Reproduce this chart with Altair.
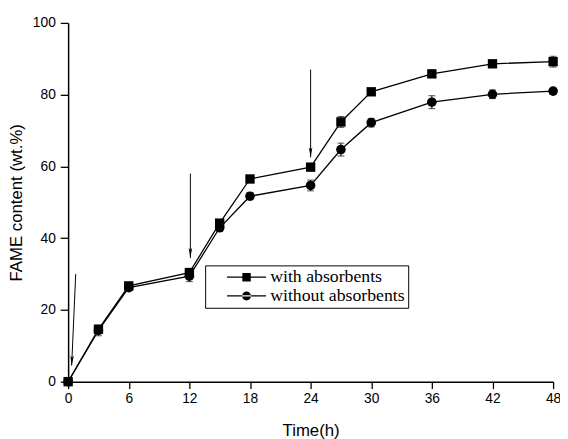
import altair as alt
import pandas as pd

# ---- data ----
time_h = [0, 3, 6, 12, 15, 18, 24, 27, 30, 36, 42, 48]
with_abs = [0, 14.6, 26.7, 30.4, 44.2, 56.5, 59.8, 72.4, 80.8, 85.8, 88.6, 89.2]
with_err = [0.5, 1.0, 0.8, 1.2, 0.8, 0.8, 0.8, 1.5, 0.8, 0.8, 0.8, 1.5]
without_abs = [0, 14.3, 26.2, 29.4, 42.9, 51.7, 54.7, 64.7, 72.2, 77.9, 80.1, 81.0]
without_err = [0.5, 1.5, 0.8, 1.5, 0.8, 1.0, 1.5, 1.8, 1.2, 1.8, 1.2, 0.8]
series = ["with absorbents", "without absorbents"]

# arrows (start -> tip, data units)
arrow_x0 = [0.75, 12.1, 24.0]
arrow_y0 = [30, 58, 87]
arrow_x1 = [0.35, 12.1, 24.0]
arrow_y1 = [4.5, 34.5, 62.5]
arrow_angle = [2.5, 0, 0]

x_ticks = list(range(0, 49, 3))
y_ticks = list(range(0, 101, 10))

rows = []
for s, vals, errs in [(series[0], with_abs, with_err), (series[1], without_abs, without_err)]:
    for t, v, e in zip(time_h, vals, errs):
        rows.append({"time": t, "value": v, "lo": v - e, "hi": v + e, "series": s})
df = pd.DataFrame(rows)
arrows = pd.DataFrame({"x0": arrow_x0, "y0": arrow_y0, "x1": arrow_x1, "y1": arrow_y1, "ang": arrow_angle})

FONT = "Liberation Sans"
x_scale = alt.Scale(domain=[0, 48], nice=False, zero=False)
y_scale = alt.Scale(domain=[0, 100], nice=False)

common_axis = dict(
    grid=False, domainColor="black", domainWidth=1.5, tickColor="black", tickWidth=1.3,
    labelFont=FONT, labelFontSize=14, labelColor="black", labelOverlap=False, labelFlush=False,
    titleFont=FONT, titleFontSize=17, titleFontWeight="normal", titleColor="black",
)
x_axis = alt.Axis(
    values=x_ticks, labelExpr="datum.value % 6 === 0 ? datum.label : ''",
    tickSize={"condition": {"test": "datum.value % 6 === 0", "value": 7}, "value": 3},
    labelPadding=3, titlePadding=18, **common_axis)
y_axis = alt.Axis(
    values=y_ticks, labelExpr="datum.value % 20 === 0 ? datum.label : ''",
    tickSize={"condition": {"test": "datum.value % 20 === 0", "value": 8}, "value": 4},
    labelPadding=5, titlePadding=7, **common_axis)

X = alt.X("time:Q", scale=x_scale, axis=x_axis, title="Time(h)")
Y = alt.Y("value:Q", scale=y_scale, axis=y_axis, title="FAME content (wt.%)")

base = alt.Chart(df)

lines = base.mark_line(color="black", strokeWidth=1.3).encode(x=X, y=Y, detail="series:N")

err_rule = base.mark_rule(color="black", strokeWidth=1).encode(
    x="time:Q", y="lo:Q", y2="hi:Q")
err_lo = base.mark_tick(color="black", orient="horizontal", size=7, thickness=1).encode(
    x="time:Q", y="lo:Q")
err_hi = base.mark_tick(color="black", orient="horizontal", size=7, thickness=1).encode(
    x="time:Q", y="hi:Q")

points = base.mark_point(filled=True, color="black", opacity=1).encode(
    x="time:Q", y="value:Q",
    shape=alt.Shape("series:N", scale=alt.Scale(domain=series, range=["square", "circle"]), legend=None),
    size=alt.Size("series:N", scale=alt.Scale(domain=series, range=[90, 95]), legend=None),
)

# legend symbols: a thin filled bar (the line) plus the marker, all filled
sq_path = "M-4.4,-0.14H4.4V0.14H-4.4Z M-0.95,-0.95H0.95V0.95H-0.95Z"
ci_path = "M-4.4,-0.14H4.4V0.14H-4.4Z M-1,0A1,1,0,1,0,1,0A1,1,0,1,0,-1,0Z"
legend_layer = base.mark_point(filled=True, fill="black", opacity=1, size=81).encode(
    shape=alt.Shape("series:N", scale=alt.Scale(domain=series, range=[sq_path, ci_path]),
                    legend=alt.Legend(title=None, orient="none", legendX=139, legendY=246,
                                      strokeColor="black", fillColor="white", padding=3,
                                      labelFont="Liberation Serif", labelFontSize=18,
                                      labelColor="black", symbolSize=81,
                                      symbolFillColor="black", symbolStrokeColor="black",
                                      symbolStrokeWidth=0, symbolOpacity=1,
                                      symbolOffset=30, labelOffset=15, rowPadding=1)),
).transform_filter("false")

arrow_base = alt.Chart(arrows)
shafts = arrow_base.mark_rule(color="black", strokeWidth=1).encode(
    x="x0:Q", y="y0:Q", x2="x1:Q", y2="y1:Q")
heads = arrow_base.mark_point(
    filled=True, color="black", opacity=1, size=100,
    shape="M0,0L-0.35,-2L0,-1.6L0.35,-2Z").encode(
    x="x1:Q", y="y1:Q", angle=alt.Angle("ang:Q", scale=None))

chart = alt.layer(
    lines, err_rule, err_lo, err_hi, points, shafts, heads, legend_layer
).resolve_scale(shape="independent", size="independent").properties(
    width=492, height=364,
    autosize=alt.AutoSizeParams(type="none"),
    padding={"left": 61, "top": 12, "right": 7, "bottom": 55},
    background="white",
).configure_view(stroke=None)

chart.save("out.html", embed_options={"renderer": "svg", "actions": False})
